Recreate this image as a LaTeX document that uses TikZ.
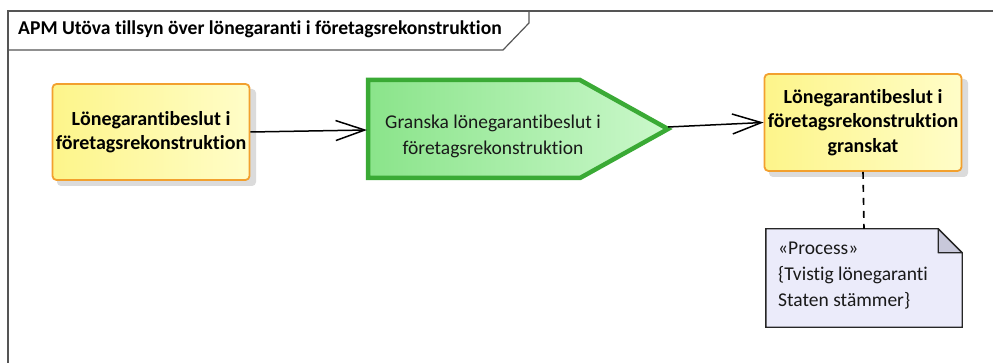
\documentclass[tikz,border=0pt]{standalone}
\usepackage{fontspec}
\setmainfont{Carlito}[Ligatures={NoCommon}]
\usetikzlibrary{arrows.meta}
\definecolor{boxborder}{HTML}{F2A02E}
\definecolor{yelA}{HTML}{FDF58A}
\definecolor{yelB}{HTML}{FFFDC8}
\definecolor{grnborder}{HTML}{3AAA35}
\definecolor{grnA}{HTML}{8AE48A}
\definecolor{grnB}{HTML}{CBF8CB}
\definecolor{notefill}{HTML}{EBEBFA}
\definecolor{foldfill}{HTML}{C8C8DA}
\definecolor{framecol}{HTML}{555555}
\begin{document}
\begin{tikzpicture}[x=1pt,y=-1pt,
  every node/.style={inner sep=0pt,font=\fontsize{19.5}{24}\selectfont},
  ybox/.style={draw=boxborder,line width=1.8pt,rounded corners=4pt,
    left color=yelA,right color=yelB,minimum width=197pt,minimum height=96pt,
    align=center,font=\fontsize{20}{24.5}\selectfont\bfseries},
  shadowbox/.style={fill=black!14,rounded corners=4pt},
  flow/.style={line width=1.5pt,-{Straight Barb[length=29pt,width=20pt]}},
  framel/.style={line width=1.2pt,draw=framecol}]
\useasboundingbox (0,0) rectangle (993,363);
\fill[white] (0,0) rectangle (993,363);
% frame
\draw[framel] (8,363) -- (8,11) -- (993,11);
\draw[framel] (8,50) -- (503,50) -- (529,23) -- (529,11);
\node[anchor=base west,font=\fontsize{19.6}{24}\selectfont\bfseries] (title) at (18,35) {APM Utöva tillsyn över lönegaranti i företagsrekonstruktion};
% shadows
\fill[shadowbox] (57,89) rectangle (256,186);
\fill[shadowbox] (769,79) rectangle (968,177);
% left box
\node[ybox] (lb) at (151,132) {Lönegarantibeslut i\\företagsrekonstruktion};
% right box
\node[ybox,minimum height=97pt] (rb) at (863,122.5) {Lönegarantibeslut i\\företagsrekonstruktion\\granskat};
% green process shape
\path[draw=grnborder,line width=4.5pt,line join=miter,left color=grnA,right color=grnB]
  (368,80) -- (580,80) -- (668,129) -- (580,178) -- (368,178) -- cycle;
\node[align=center,text=black!90,font=\fontsize{19.5}{26}\selectfont] (g) at (493,136) {Granska lönegarantibeslut i\\företagsrekonstruktion};
\coordinate (gin) at (367,130);
\coordinate (gout) at (668,127);
% note
\node[minimum width=196pt,minimum height=98pt] (note) at (864,278) {};
\draw[fill=notefill,line width=1.4pt,draw=black!85]
  (note.north west) -- ([xshift=-24pt]note.north east) -- ([yshift=-24pt]note.north east)
  -- (note.south east) -- (note.south west) -- cycle;
\draw[fill=foldfill,line width=1.4pt,draw=black!85,line join=round]
  ([xshift=-24pt]note.north east) -- ([xshift=-24pt,yshift=-24pt]note.north east) -- ([yshift=-24pt]note.north east) -- cycle;
\node[anchor=base west,align=left,font=\fontsize{19.5}{26}\selectfont,text=black!90] (notetext) at (778,307) {«Process»\\\{Tvistig lönegaranti\\Staten stämmer\}};
% connectors
\draw[flow] (lb.east) -- (gin);
\draw[flow] (gout) -- (rb.west);
\draw[line width=1.6pt,dash pattern=on 7pt off 6pt] (rb.south) -- (note.north);
\end{tikzpicture}
\end{document}
